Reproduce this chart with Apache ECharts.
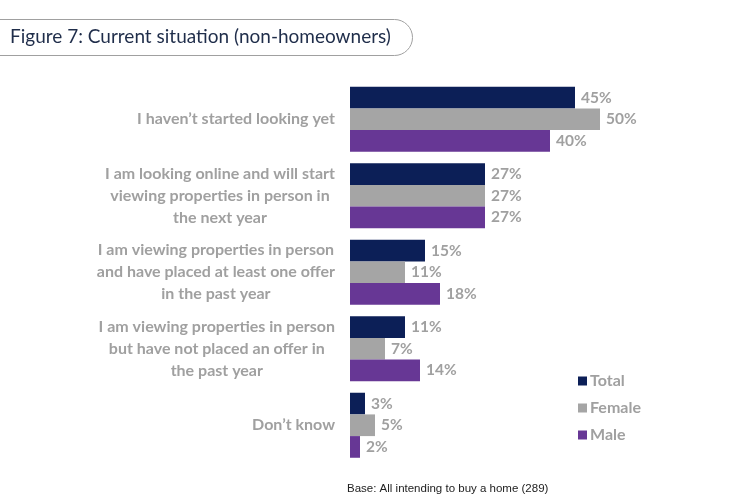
<!DOCTYPE html>
<html><head><meta charset="utf-8">
<script src="https://cdn.jsdelivr.net/npm/echarts@6/dist/echarts.min.js"></script>
<style>html,body{margin:0;padding:0;background:#fff}#c{width:750px;height:500px}</style>
</head><body><div id="c"></div>
<script>
const categories = [
  "I haven\u2019t started looking yet",
  "I am looking online and will start\nviewing properties in person in\nthe next year",
  "I am viewing properties in person\nand have placed at least one offer\nin the past year",
  "I am viewing properties in person\nbut have not placed an offer in\nthe past year",
  "Don\u2019t know"
];
const seriesNames = ["Total", "Female", "Male"];
const totalValues = [45, 27, 15, 11, 3];
const femaleValues = [50, 27, 11, 7, 5];
const maleValues = [40, 27, 18, 14, 2];
const titleText = "Figure 7: Current situation (non-homeowners)";
const baseText = "Base: All intending to buy a home (289)";

const colors = ["#0c1f57", "#a5a5a5", "#673795"];
const valuesList = [totalValues, femaleValues, maleValues];
const labelFont = "Lato";
const chart = echarts.init(document.getElementById('c'));
chart.setOption({
  animation: false,
  textStyle: { fontFamily: labelFont },
  title: [
    { text: titleText, left: 5, top: 22,
      textStyle: { fontFamily: "Lato", fontSize: 19, fontWeight: 'normal', color: '#1f2d4a' } },
    { text: baseText, left: 342, top: 478,
      textStyle: { fontFamily: "Liberation Sans", fontSize: 11.5, fontWeight: 'normal', color: '#222' } }
  ],
  graphic: [
    { type: 'rect', left: -20, top: 17, z: -1,
      shape: { width: 430, height: 36, r: [0, 18, 18, 0] },
      style: { fill: 'none', stroke: '#a0a0a0', lineWidth: 1 } }
  ],
  legend: {
    orient: 'vertical', left: 573, top: 368, itemGap: 11,
    itemWidth: 9, itemHeight: 9, icon: 'rect',
    data: seriesNames,
    textStyle: { color: '#a0a0a0', fontSize: 16, fontWeight: 'bold', fontFamily: labelFont, padding: [0, 0, 0, -2] }
  },
  grid: { left: 350, top: 81, width: 300, height: 382.5, containLabel: false },
  xAxis: { type: 'value', min: 0, max: 60, show: false },
  yAxis: {
    type: 'category', inverse: true, data: categories,
    axisLine: { show: false }, axisTick: { show: false },
    axisLabel: {
      margin: 15, align: 'right',
      formatter: function (v) {
        return v.split('\n').map(function (l) { return '{c|' + l + '}'; }).join('\n');
      },
      rich: { c: { align: 'center', color: '#a0a0a0', fontSize: 16, fontWeight: 'bold', fontFamily: labelFont, lineHeight: 22 } }
    }
  },
  series: seriesNames.map(function (n, i) {
    return {
      name: n, type: 'bar', data: valuesList[i],
      barGap: '0%', barCategoryGap: '15%',
      itemStyle: { color: colors[i] },
      label: { show: true, position: 'right', distance: 6, formatter: '{c}%',
        color: '#a0a0a0', fontSize: 15.5, fontWeight: 'bold', fontFamily: labelFont }
    };
  })
});
</script></body></html>
